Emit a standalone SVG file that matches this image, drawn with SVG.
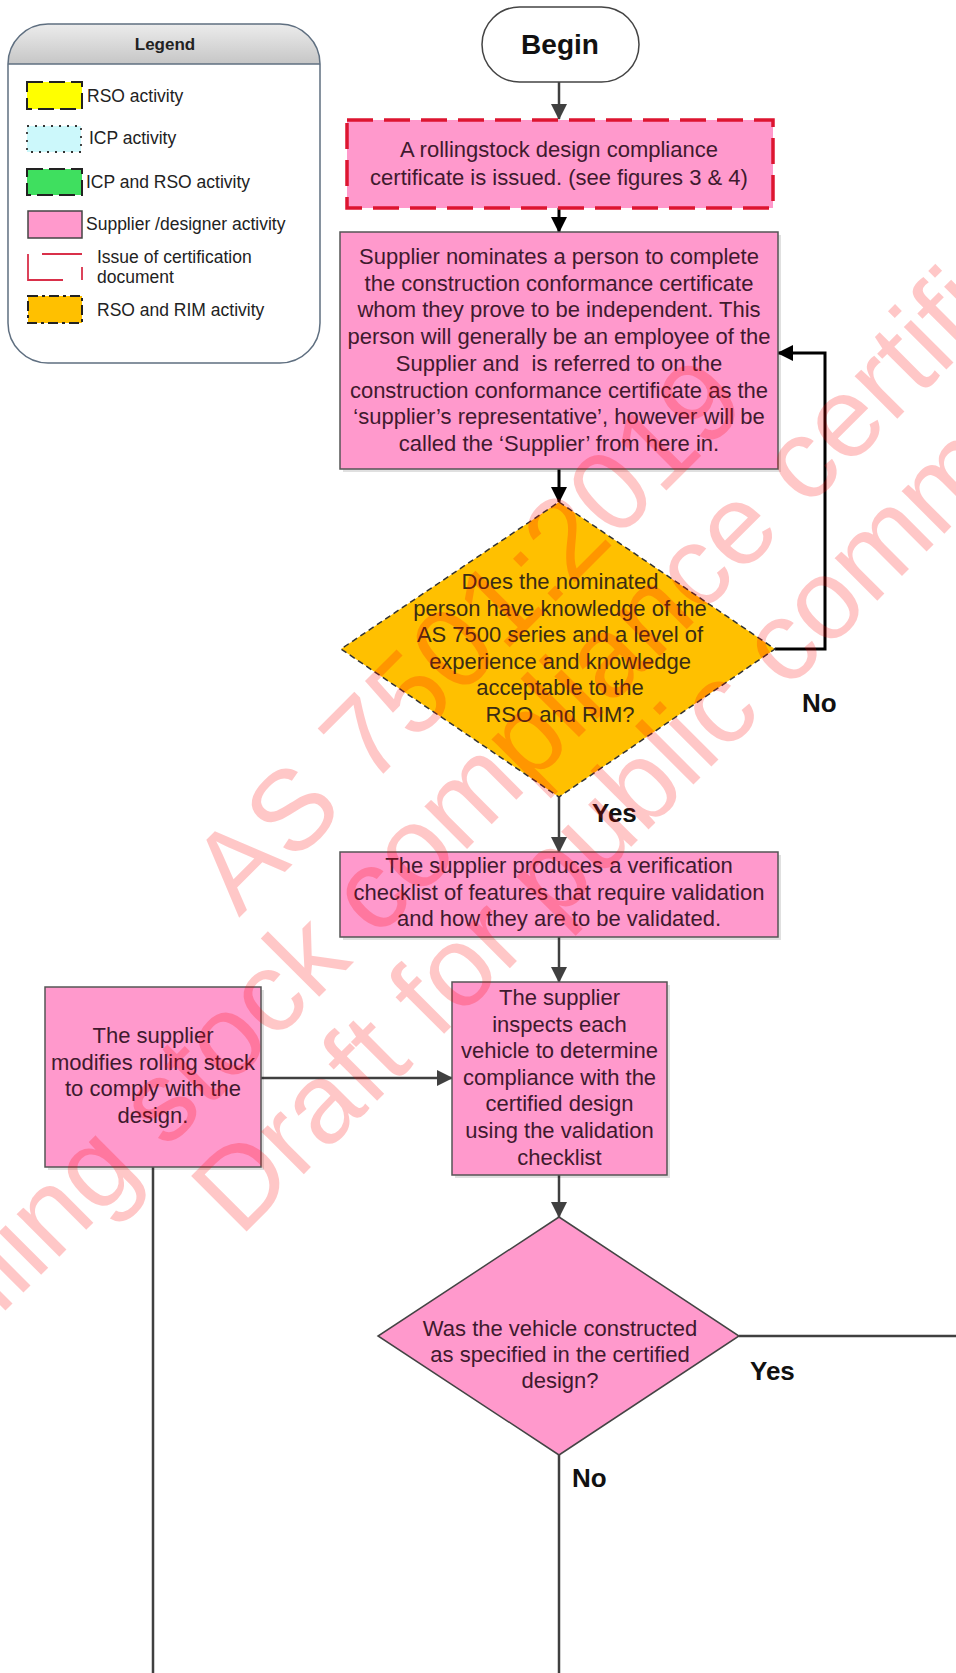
<svg xmlns="http://www.w3.org/2000/svg" width="956" height="1673" viewBox="0 0 956 1673">
<defs>
<linearGradient id="hdr" x1="0" y1="0" x2="0" y2="1">
<stop offset="0" stop-color="#ececec"/>
<stop offset="1" stop-color="#c6c6c6"/>
</linearGradient>
<marker id="ag" viewBox="0 0 16 16" markerWidth="16" markerHeight="16" refX="15" refY="8" orient="auto" markerUnits="userSpaceOnUse"><path d="M0,0 L16,8 L0,16 z" fill="#404040"/></marker>
<marker id="ak" viewBox="0 0 16 16" markerWidth="16" markerHeight="16" refX="15" refY="8" orient="auto" markerUnits="userSpaceOnUse"><path d="M0,0 L16,8 L0,16 z" fill="#000000"/></marker>
<clipPath id="lgclip"><rect x="8" y="24" width="312" height="339" rx="40" ry="40"/></clipPath>
</defs>
<style>
text{font-family:"Liberation Sans",Arial,sans-serif}
.lg{font-size:17.5px;fill:#222}
.bx{font-size:22px;fill:#3f1a2e;text-anchor:middle}
.dt{font-size:22px;fill:#3a2c14;text-anchor:middle}
.lab{font-size:26px;font-weight:bold;fill:#111}
.pink{fill:#ff99cc;stroke:#555;stroke-width:1.5}
.shd{fill:#000;fill-opacity:0.12}
.cg{fill:none;stroke:#404040;stroke-width:2.5}
.ck{fill:none;stroke:#000;stroke-width:3}
.wm{font-size:114px;fill:#ff0000;fill-opacity:0.22}
</style>
<rect width="956" height="1673" fill="#ffffff"/>

<g id="legend">
<rect x="8" y="24" width="312" height="339" rx="40" ry="40" fill="#ffffff"/>
<rect x="8" y="24" width="312" height="40" fill="url(#hdr)" clip-path="url(#lgclip)"/>
<line x1="8" y1="64" x2="320" y2="64" stroke="#5f6f80" stroke-width="1.5"/>
<rect x="8" y="24" width="312" height="339" rx="40" ry="40" fill="none" stroke="#5f6f80" stroke-width="1.5"/>
<text x="165" y="50" style="font-size:17px;font-weight:bold;fill:#222;text-anchor:middle">Legend</text>
<rect x="27" y="82" width="55" height="27" fill="#ffff00" stroke="#222" stroke-width="2" stroke-dasharray="16 6"/>
<text class="lg" x="87" y="102">RSO activity</text>
<rect x="27" y="126" width="54" height="26" fill="#ccf8fb" stroke="#333" stroke-width="1.8" stroke-dasharray="2 6"/>
<text class="lg" x="89" y="144">ICP activity</text>
<rect x="27" y="169" width="55" height="26" fill="#3fdf5f" stroke="#222" stroke-width="2" stroke-dasharray="16 6"/>
<text class="lg" x="86" y="188">ICP and RSO activity</text>
<rect x="28" y="211" width="54" height="27" fill="#ff99cc" stroke="#444" stroke-width="1.5"/>
<text class="lg" x="86" y="230">Supplier /designer activity</text>
<path d="M42,254 H82 M28,254 V280 H63 M82,267 V280" fill="none" stroke="#d9304a" stroke-width="1.8"/>
<text class="lg" x="97" y="263">Issue of certification</text>
<text class="lg" x="97" y="283">document</text>
<rect x="28" y="296" width="54" height="27" fill="#ffc000" stroke="#222" stroke-width="2" stroke-dasharray="10 4 3 4"/>
<text class="lg" x="97" y="316">RSO and RIM activity</text>
</g>

<g id="connectors">
<path class="cg" d="M559,82 V119" marker-end="url(#ag)"/>
<path class="ck" d="M559,208 V232" marker-end="url(#ak)"/>
<path class="ck" d="M559,469 V502" marker-end="url(#ak)"/>
<path class="ck" d="M775,649 H825 V353 H778" marker-end="url(#ak)"/>
<path class="cg" d="M559,797 V852" marker-end="url(#ag)"/>
<path class="cg" d="M559,937 V982" marker-end="url(#ag)"/>
<path class="cg" d="M261,1078 H452" marker-end="url(#ag)"/>
<path class="cg" d="M559,1175 V1217" marker-end="url(#ag)"/>
<path class="cg" d="M739,1336 H956"/>
<path class="cg" d="M559,1455 V1673"/>
<path class="cg" d="M153,1167 V1673"/>
<text class="lab" x="802" y="712">No</text>
<text class="lab" x="592" y="822">Yes</text>
<text class="lab" x="750" y="1380">Yes</text>
<text class="lab" x="572" y="1487">No</text>
</g>

<g id="begin">
<rect x="482" y="7" width="157" height="75" rx="37.5" ry="37.5" fill="#ffffff" stroke="#444" stroke-width="1.5"/>
<text x="560" y="54" style="font-size:28px;font-weight:bold;fill:#111;text-anchor:middle">Begin</text>
</g>

<g id="certificate">
<rect x="347" y="120" width="426" height="88" fill="#ff99cc" stroke="#dd1530" stroke-width="3.5" stroke-dasharray="26 11"/>
<text class="bx" x="559" y="157">A rollingstock design compliance</text>
<text class="bx" x="559" y="185">certificate is issued. (see figures 3 &amp; 4)</text>
</g>

<g id="nominate">
<rect class="shd" x="343" y="235" width="438" height="237"/>
<rect class="pink" x="340" y="232" width="438" height="237"/>
<text class="bx" x="559" y="264">Supplier nominates a person to complete</text>
<text class="bx" x="559" y="290.7">the construction conformance certificate</text>
<text class="bx" x="559" y="317.4">whom they prove to be independent. This</text>
<text class="bx" x="559" y="344.1">person will generally be an employee of the</text>
<text class="bx" x="559" y="370.8" xml:space="preserve">Supplier and  is referred to on the</text>
<text class="bx" x="559" y="397.5">construction conformance certificate as the</text>
<text class="bx" x="559" y="424.2">‘supplier’s representative’, however will be</text>
<text class="bx" x="559" y="450.9">called the ‘Supplier’ from here in.</text>
</g>

<g id="knowledge">
<polygon points="559,502 775,649 559,797 341,649" fill="#ffc000" stroke="#333" stroke-width="1.5" stroke-dasharray="6 4"/>
<text class="dt" x="560" y="589">Does the nominated</text>
<text class="dt" x="560" y="615.5">person have knowledge of the</text>
<text class="dt" x="560" y="642">AS 7500 series and a level of</text>
<text class="dt" x="560" y="668.5">experience and knowledge</text>
<text class="dt" x="560" y="695">acceptable to the</text>
<text class="dt" x="560" y="721.5">RSO and RIM?</text>
</g>

<g id="checklist">
<rect class="shd" x="343" y="855" width="438" height="85"/>
<rect class="pink" x="340" y="852" width="438" height="85"/>
<text class="bx" x="559" y="873">The supplier produces a verification</text>
<text class="bx" x="559" y="899.5">checklist of features that require validation</text>
<text class="bx" x="559" y="926">and how they are to be validated.</text>
</g>

<g id="inspect">
<rect class="shd" x="455" y="985" width="215" height="193"/>
<rect class="pink" x="452" y="982" width="215" height="193"/>
<text class="bx" x="559.5" y="1005">The supplier</text>
<text class="bx" x="559.5" y="1031.6">inspects each</text>
<text class="bx" x="559.5" y="1058.2">vehicle to determine</text>
<text class="bx" x="559.5" y="1084.8">compliance with the</text>
<text class="bx" x="559.5" y="1111.4">certified design</text>
<text class="bx" x="559.5" y="1138">using the validation</text>
<text class="bx" x="559.5" y="1164.6">checklist</text>
</g>

<g id="modify">
<rect class="shd" x="48" y="990" width="216" height="180"/>
<rect class="pink" x="45" y="987" width="216" height="180"/>
<text class="bx" x="153" y="1043">The supplier</text>
<text class="bx" x="153" y="1069.5">modifies rolling stock</text>
<text class="bx" x="153" y="1096">to comply with the</text>
<text class="bx" x="153" y="1122.5">design.</text>
</g>

<g id="constructed">
<polygon points="559,1217 739,1336 559,1455 378,1336" fill="#ff99cc" stroke="#444" stroke-width="1.5"/>
<text class="bx" x="560" y="1336">Was the vehicle constructed</text>
<text class="bx" x="560" y="1362">as specified in the certified</text>
<text class="bx" x="560" y="1388">design?</text>
</g>

<g id="watermark">
<text class="wm" transform="translate(239,918) rotate(-45)">AS 7501:2019</text>
<text class="wm" transform="translate(-103,1419) rotate(-45)">Rolling stock compliance certification</text>
<text class="wm" transform="translate(240,1238) rotate(-45)">Draft for public comment</text>
</g>
</svg>
